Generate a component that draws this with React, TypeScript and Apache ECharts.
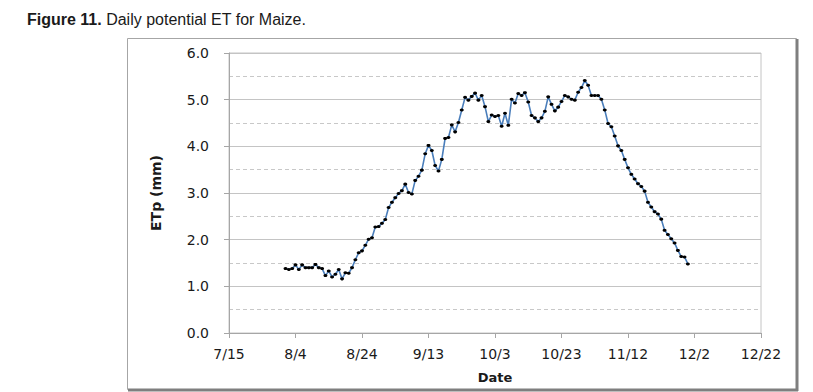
import React, { useEffect, useRef } from "react";
import * as echarts from "echarts";

// Days counted from 7/15; first observation on 8/1 (day 17), one value per day
const axisStartMonth = 6; // July (0-based)
const axisStartDate = 15;
const firstObsDay = 17;
const xTicksInterval = 20;
const xMax = 160;

// Daily potential ET (mm), 8/1 .. 11/30
const etpValues: number[] = [
  1.38, 1.36, 1.38, 1.46, 1.36, 1.46, 1.40, 1.40, 1.40, 1.47,
  1.40, 1.38, 1.23, 1.33, 1.20, 1.26, 1.36, 1.16, 1.29, 1.28,
  1.40, 1.57, 1.72, 1.76, 1.88, 2.01, 2.04, 2.27, 2.28, 2.35,
  2.43, 2.69, 2.80, 2.90, 2.99, 3.05, 3.19, 3.01, 2.98, 3.27,
  3.36, 3.49, 3.84, 4.02, 3.91, 3.59, 3.47, 3.72, 4.17, 4.19,
  4.46, 4.31, 4.51, 4.78, 5.05, 4.99, 5.07, 5.14, 4.99, 5.09,
  4.85, 4.53, 4.67, 4.64, 4.66, 4.43, 4.71, 4.45, 5.01, 4.93,
  5.13, 5.09, 5.15, 4.95, 4.66, 4.61, 4.53, 4.61, 4.75, 5.06,
  4.90, 4.76, 4.84, 4.96, 5.09, 5.06, 5.01, 4.99, 5.16, 5.26,
  5.41, 5.31, 5.09, 5.09, 5.09, 5.01, 4.78, 4.49, 4.42, 4.22,
  4.01, 3.91, 3.72, 3.54, 3.40, 3.30, 3.20, 3.14, 3.04, 2.80,
  2.70, 2.60, 2.55, 2.44, 2.20, 2.11, 2.02, 1.93, 1.77, 1.64,
  1.63, 1.48,
];

const yMin = 0;
const yMax = 6;
const yInterval = 1;

function dayLabel(v: number): string {
  const d = new Date(2013, axisStartMonth, axisStartDate + v);
  return `${d.getMonth() + 1}/${d.getDate()}`;
}

export default function App() {
  const ref = useRef<HTMLDivElement>(null);
  useEffect(() => {
    if (!ref.current) return;
    const chart = echarts.init(ref.current, null, { renderer: "svg" });
    const tickFont = "DejaVu Sans";
    chart.setOption({
      animation: false,
      backgroundColor: "#ffffff",
      title: {
        left: 22,
        top: 6,
        text: "{b|Figure 11.}{n| Daily potential ET for Maize.}",
        textStyle: {
          fontWeight: "normal",
          rich: {
            b: { fontFamily: "Liberation Sans", fontWeight: "bold", fontSize: 16, color: "#1a1a1a" },
            n: { fontFamily: "Liberation Sans", fontWeight: "normal", fontSize: 16, color: "#1a1a1a" },
          },
        },
      },
      graphic: [
        {
          type: "rect",
          shape: { x: 127.5, y: 38.5, width: 669, height: 351 },
          style: { fill: "none", stroke: "#a6a6a6", lineWidth: 1 },
          silent: true,
        },
        {
          type: "line",
          shape: { x1: 797, y1: 39, x2: 797, y2: 391 },
          style: { stroke: "#7f7f7f", lineWidth: 3 },
          silent: true,
        },
        {
          type: "line",
          shape: { x1: 128, y1: 390, x2: 798, y2: 390 },
          style: { stroke: "#7f7f7f", lineWidth: 3 },
          silent: true,
        },
      ],
      grid: {
        left: 229,
        right: 52,
        top: 53,
        bottom: 59,
        show: true,
        borderColor: "#c4c4c4",
        borderWidth: 1,
        backgroundColor: "transparent",
      },
      xAxis: {
        type: "value",
        min: 0,
        max: xMax,
        interval: xTicksInterval,
        name: "Date",
        nameLocation: "middle",
        nameGap: 38,
        nameTextStyle: { fontFamily: tickFont, fontWeight: "bold", fontSize: 13, color: "#1a1a1a" },
        axisLine: { show: true, lineStyle: { color: "#a6a6a6", width: 1 } },
        axisTick: { show: true, length: 5, inside: false, lineStyle: { color: "#a6a6a6" } },
        splitLine: { show: false },
        axisLabel: {
          formatter: (v: number) => dayLabel(v),
          margin: 14,
          fontFamily: tickFont,
          fontSize: 14,
          color: "#1a1a1a",
        },
      },
      yAxis: {
        type: "value",
        min: yMin,
        max: yMax,
        interval: yInterval,
        name: "ETp (mm)",
        nameLocation: "middle",
        nameGap: 66,
        nameTextStyle: { fontFamily: tickFont, fontWeight: "bold", fontSize: 14, color: "#1a1a1a" },
        axisLine: { show: true, lineStyle: { color: "#a6a6a6", width: 1 } },
        axisTick: { show: true, length: 5, inside: false, lineStyle: { color: "#a6a6a6" } },
        splitLine: { show: true, lineStyle: { color: "#c4c4c4", width: 1 } },
        minorTick: { show: false, splitNumber: 2 },
        minorSplitLine: { show: true, lineStyle: { color: "#c8c8c8", type: [4, 3], width: 1 } },
        axisLabel: {
          formatter: (v: number) => v.toFixed(1),
          margin: 20,
          fontFamily: tickFont,
          fontSize: 14,
          color: "#1a1a1a",
        },
      },
      series: [
        {
          type: "line",
          data: etpValues.map((v, i) => [firstObsDay + i, v]),
          symbol: "circle",
          symbolSize: [4, 3],
          showAllSymbol: true,
          itemStyle: { color: "#000000" },
          lineStyle: { color: "#4a7ebb", width: 1.6 },
          z: 3,
        },
      ],
    });
    return () => chart.dispose();
  }, []);
  return (
    <div
      ref={ref}
      style={{ position: "fixed", left: 0, top: 0, width: 813, height: 392, background: "#fff" }}
    />
  );
}
